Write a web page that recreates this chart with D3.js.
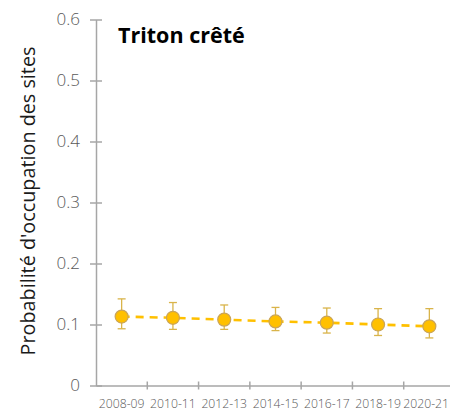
<!DOCTYPE html>
<html><head><meta charset="utf-8">
<script src="https://cdn.jsdelivr.net/npm/d3@7"></script>
<style>body{margin:0;background:#fff}svg{display:block}</style>
</head><body>
<script>
const categories = ["2008-09","2010-11","2012-13","2014-15","2016-17","2018-19","2020-21"];
const values = [0.113,0.111,0.108,0.105,0.103,0.100,0.097];
const lower = [0.093,0.092,0.092,0.090,0.086,0.082,0.078];
const upper = [0.142,0.136,0.132,0.128,0.127,0.126,0.126];
const yTicks = [0,0.1,0.2,0.3,0.4,0.5,0.6];
const yTickLabels = ["0","0.1","0.2","0.3","0.4","0.5","0.6"];
const title = "Triton crêté";
const yTitle = "Probabilité d'occupation des sites";

const W=450,H=412;
const svg=d3.select("body").append("svg").attr("width",W).attr("height",H);
const x=d3.scaleBand().domain(categories).range([96,455]);
const y=d3.scaleLinear().domain([0,0.6]).range([385.5,19.5]);
const axisCol="#a6a6a6", txtCol="#595959", font="'Open Sans', sans-serif";

// y axis
const ya=svg.append("g").attr("transform","translate(96,0)")
  .call(d3.axisLeft(y).tickValues(yTicks).tickFormat((d,i)=>yTickLabels[i]).tickSizeOuter(0).tickSizeInner(6).tickPadding(10));
ya.select(".domain").attr("stroke",axisCol).attr("stroke-width",1.5);
ya.selectAll(".tick line").attr("stroke",axisCol).attr("stroke-width",1.5).attr("x2",-6).attr("x1",6);
ya.selectAll(".tick text").attr("fill",txtCol).attr("font-family",font).attr("font-size",17).attr("font-weight",300).attr("x",-16);

// x axis
const xa=svg.append("g").attr("transform","translate(0,385.5)")
  .call(d3.axisBottom(x).tickSize(0).tickPadding(14));
xa.select(".domain").attr("stroke",axisCol).attr("stroke-width",1.5);
xa.selectAll(".tick text").attr("fill",txtCol).attr("font-family",font).attr("font-size",12.2).attr("font-weight",300);
// keep last label inside the picture
xa.selectAll(".tick").filter((d,i,n)=>i===n.length-1).each(function(d){
  const t=d3.select(this).select("text");
  const cxv=x(d)+x.bandwidth()/2;
  const w=t.node().getComputedTextLength();
  const over=cxv+w/2-(W-1);
  if(over>0) t.attr("x",-over);
});
// boundary ticks
const bounds=categories.map(c=>x(c)).concat([x(categories[categories.length-1])+x.bandwidth()]).slice(1);
svg.append("g").selectAll("line").data(bounds).join("line")
  .attr("x1",d=>d).attr("x2",d=>d).attr("y1",381.5).attr("y2",389.5)
  .attr("stroke",axisCol).attr("stroke-width",1.5);

const cx=d=>x(d)+x.bandwidth()/2;
const data=categories.map((c,i)=>({c,v:values[i],lo:lower[i],hi:upper[i]}));

// dashed line
svg.append("path").datum(data)
  .attr("d",d3.line().x(d=>cx(d.c)).y(d=>y(d.v)))
  .attr("fill","none").attr("stroke","#ffc000").attr("stroke-width",2.6).attr("stroke-dasharray","8,6");

// error bars
const eb=svg.append("g").attr("stroke","#d9b44a").attr("stroke-width",1.3);
eb.selectAll(".v").data(data).join("line").attr("x1",d=>cx(d.c)).attr("x2",d=>cx(d.c)).attr("y1",d=>y(d.lo)).attr("y2",d=>y(d.hi));
eb.selectAll(".t").data(data).join("line").attr("x1",d=>cx(d.c)-4).attr("x2",d=>cx(d.c)+4).attr("y1",d=>y(d.hi)).attr("y2",d=>y(d.hi));
eb.selectAll(".b").data(data).join("line").attr("x1",d=>cx(d.c)-4).attr("x2",d=>cx(d.c)+4).attr("y1",d=>y(d.lo)).attr("y2",d=>y(d.lo));

// points
svg.append("g").selectAll("circle").data(data).join("circle")
  .attr("cx",d=>cx(d.c)).attr("cy",d=>y(d.v)).attr("r",6.5)
  .attr("fill","#ffc000").attr("stroke","#c9a45a").attr("stroke-width",1.2);

// title
svg.append("text").attr("x",118).attr("y",43).text(title)
  .attr("font-family",font).attr("font-weight","bold").attr("font-size",21.5).attr("fill","#000");

// y title
svg.append("text").attr("transform","translate(35,201) rotate(-90)").attr("text-anchor","middle")
  .text(yTitle).attr("font-family",font).attr("font-size",19.8).attr("font-weight",500).attr("fill","#1a1a1a");
</script>
</body></html>
